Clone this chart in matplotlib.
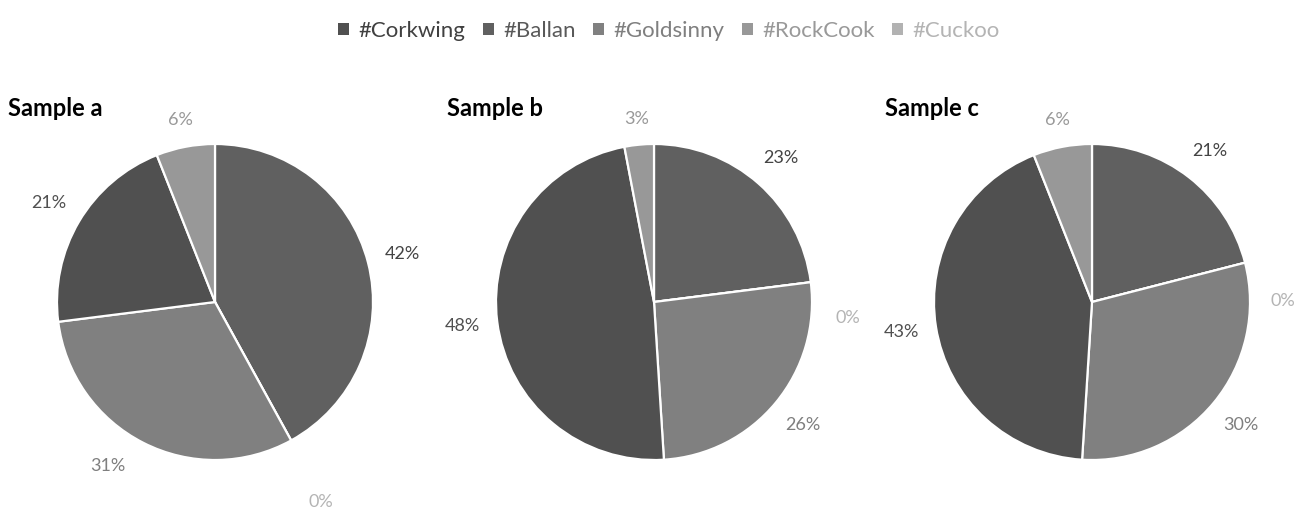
import matplotlib.pyplot as plt
from matplotlib.patches import Patch
import numpy as np

plt.rcParams['font.family'] = ['Lato', 'DejaVu Sans']

species = ['#Corkwing', '#Ballan', '#Goldsinny', '#RockCook', '#Cuckoo']
slice_colors = ['#505050', '#606060', '#808080', '#989898', '#b2b2b2']
label_colors = ['#505050', '#444444', '#7f7f7f', '#999999', '#b4b4b4']
legend_text_colors = ['#404040', '#595959', '#7f7f7f', '#999999', '#b4b4b4']

titles = ['Sample a', 'Sample b', 'Sample c']
# percentages, same order as species
sample_a = [21, 42, 31, 6, 0]
sample_b = [48, 23, 26, 3, 0]
sample_c = [43, 21, 30, 6, 0]
samples = [sample_a, sample_b, sample_c]

# slices go clockwise from 12 o'clock in this order
slice_order = [1, 4, 2, 0, 3]

# labels that get pushed aside to avoid overlaps: (sample, species) -> (turn deg, radius)
label_moves = {
    (0, 4): (1, 1.43),
    (0, 2): (6, 1.24),
    (1, 4): (12, 1.23),
    (2, 4): (14, 1.21),
}

W, H = 1309, 512
R = 158
centers = [(215, 302), (654, 302), (1092, 302)]
title_x = [8, 447, 885]

fig = plt.figure(figsize=(W / 100, H / 100), dpi=100)

for i, vals in enumerate(samples):
    cx, cy = centers[i]
    ax = fig.add_axes([(cx - R) / W, 1 - (cy + R) / H, 2 * R / W, 2 * R / H])
    v = [vals[k] for k in slice_order]
    wedges, _ = ax.pie(v, colors=[slice_colors[k] for k in slice_order],
                       startangle=90, counterclock=False, radius=1,
                       wedgeprops=dict(edgecolor='white', linewidth=1.6))
    ax.set_xlim(-1, 1)
    ax.set_ylim(-1, 1)
    for w, k in zip(wedges, slice_order):
        mid = (w.theta1 + w.theta2) / 2
        if (i, k) in label_moves:
            turn, r = label_moves[(i, k)]
            mid -= turn
        else:
            s, c = abs(np.cos(np.radians(mid))), abs(np.sin(np.radians(mid)))
            r = 1 + (16 + 18 * s + 8 * c) / R
        x, y = r * np.cos(np.radians(mid)), r * np.sin(np.radians(mid))
        ax.text(x, y, f'{vals[k]}%', ha='center', va='center',
                fontsize=13, color=label_colors[k], clip_on=False)
    fig.text(title_x[i] / W, 1 - 108 / H, titles[i], fontsize=17,
             fontweight='bold', color='black', ha='left', va='center')

handles = [Patch(facecolor=c, edgecolor='none', label=s)
           for c, s in zip(slice_colors, species)]
leg = fig.legend(handles=handles, loc='center', bbox_to_anchor=(669 / W, 1 - 31 / H),
                 ncol=5, frameon=False, fontsize=16, handlelength=0.5,
                 handleheight=0.5, handletextpad=0.4, columnspacing=0.8)
for t, c in zip(leg.get_texts(), legend_text_colors):
    t.set_color(c)

fig.savefig('out.png', dpi=100)
